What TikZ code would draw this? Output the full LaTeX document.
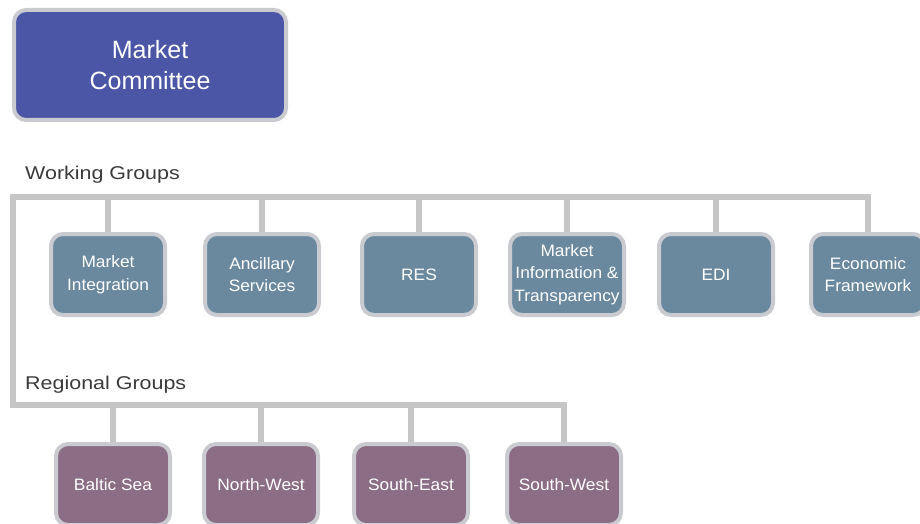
\documentclass[tikz,border=0pt]{standalone}
\usepackage{fontspec}
\setmainfont{Liberation Sans}
\newfontfamily\boxfont[FakeStretch=1.05]{Liberation Sans}
\newfontfamily\labelfont[FakeStretch=1.16]{Liberation Sans}
\definecolor{mcfill}{HTML}{4B56A6}
\definecolor{wgfill}{HTML}{6A899F}
\definecolor{rgfill}{HTML}{8B6D86}
\definecolor{rim}{HTML}{C9CBD0}
\definecolor{busgray}{HTML}{C6C6C6}
\definecolor{labeltext}{HTML}{3A3A3A}
\begin{document}
\begin{tikzpicture}[x=1pt,y=1pt,
  boxbase/.style={draw=rim, line width=4pt, rounded corners=12pt, text=white,
    align=center, font=\boxfont\fontsize{16.5}{22.5}\selectfont, inner sep=1pt},
  mcbox/.style={boxbase, fill=mcfill, minimum width=272pt, minimum height=110pt,
    font=\fontsize{25}{31}\selectfont},
  wgbox/.style={boxbase, fill=wgfill, minimum width=114pt, minimum height=81pt},
  rgbox/.style={boxbase, fill=rgfill, minimum width=114pt, minimum height=81pt},
  bus/.style={draw=busgray, line width=5.5pt, line join=miter},
  grouplabel/.style={anchor=west, text=labeltext, font=\labelfont\fontsize{18.5}{22}\selectfont, inner sep=0pt}
]
\useasboundingbox (0,0) rectangle (920,-524);

\node[mcbox] (mc) at (150,-65) {Market\\Committee};

\node[grouplabel] (wglabel) at (25,-175) {Working Groups};
\node[grouplabel] (rglabel) at (25,-385) {Regional Groups};

\node[wgbox] (mi)  at (108,-274.5) {Market\\Integration};
\node[wgbox] (anc) at (262,-274.5) {Ancillary\\Services};
\node[wgbox] (res) at (419,-274.5) {RES};
\node[wgbox] (mit) at (567,-274.5) {Market\\Information \&\\Transparency};
\node[wgbox] (edi) at (716,-274.5) {EDI};
\node[wgbox] (ef)  at (868,-274.5) {Economic\\Framework};

\node[rgbox] (bs) at (113,-484.5) {Baltic Sea};
\node[rgbox] (nw) at (261,-484.5) {North-West};
\node[rgbox] (se) at (411,-484.5) {South-East};
\node[rgbox] (sw) at (564,-484.5) {South-West};

\coordinate (wgL) at (13,-197);
\coordinate (rgL) at (13,-405);
\draw[bus] (ef.north) -- (ef.north |- wgL) -- (wgL) -- (rgL)
  -- (sw.north |- rgL) -- (sw.north);

\foreach \n in {mi,anc,res,mit,edi}
  \draw[bus] (\n.north) -- (\n.north |- wgL);
\foreach \n in {bs,nw,se}
  \draw[bus] (\n.north) -- (\n.north |- rgL);
\end{tikzpicture}
\end{document}
